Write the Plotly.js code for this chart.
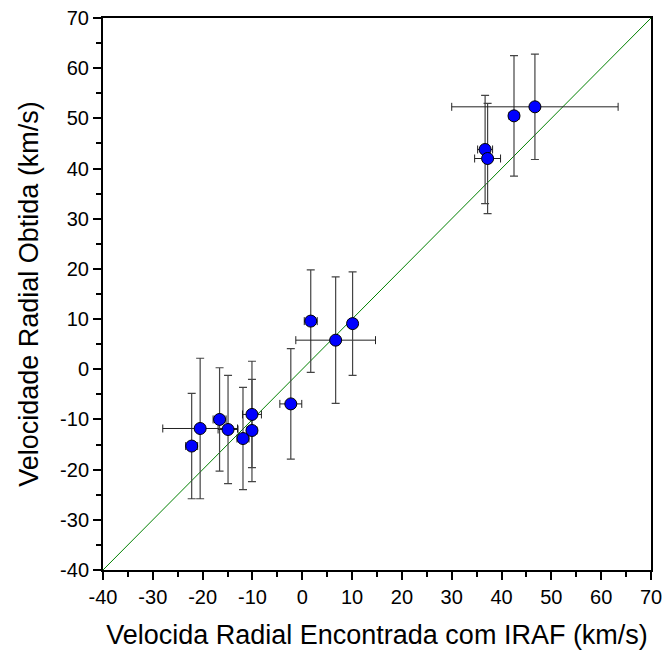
<!DOCTYPE html>
<html>
<head>
<meta charset="utf-8">
<script src="https://cdn.plot.ly/plotly-3.0.1.min.js"></script>
<style>html,body{margin:0;padding:0;background:#fff;}#chart{width:666px;height:658px;}</style>
</head>
<body>
<div id="chart"></div>
<script>
// IRAF radial velocity (x) vs obtained radial velocity (y), km/s
const xIraf   = [-22.2, -20.5, -16.6, -14.9, -11.9, -10.1, -10.1, -2.3, 1.7, 6.7, 10.1, 36.7, 37.2, 42.5, 46.7];
const yObtida = [-15.3, -11.8, -10.0, -12.0, -13.8, -9.0, -12.2, -6.9, 9.6, 5.8, 9.1, 43.8, 42.0, 50.5, 52.3];
const xErr    = [1.2, 7.5, 1.3, 2.0, 1.2, 1.9, 1.0, 2.2, 1.3, 8.0, 0.8, 1.5, 2.6, 1.0, 16.7];
const yErr    = [10.5, 14.0, 10.3, 10.8, 10.2, 10.6, 10.2, 11.0, 10.2, 12.6, 10.3, 10.8, 11.0, 12.0, 10.5];
const lineX   = [-40, 70];
const lineY   = [-40, 70];
const tickVals   = [-40, -30, -20, -10, 0, 10, 20, 30, 40, 50, 60, 70];
const tickLabels = ['-40', '-30', '-20', '-10', '0', '10', '20', '30', '40', '50', '60', '70'];

const tickFont = {family: 'Liberation Sans, Arial, sans-serif', size: 20, color: '#000'};
const titleFont = {family: 'Liberation Sans, Arial, sans-serif', size: 27, color: '#000'};

const traces = [
  {
    x: lineX, y: lineY, mode: 'lines', type: 'scatter',
    line: {color: '#008000', width: 1}, hoverinfo: 'skip', showlegend: false
  },
  {
    x: xIraf, y: yObtida, mode: 'markers', type: 'scatter', showlegend: false,
    marker: {color: '#0000ff', size: 12, line: {color: '#000', width: 1}},
    error_x: {type: 'data', array: xErr, visible: true, color: '#222', thickness: 1, width: 4},
    error_y: {type: 'data', array: yErr, visible: true, color: '#444', thickness: 1.2, width: 4}
  }
];

const axisCommon = {
  range: [-40, 70], tickmode: 'array', tickvals: tickVals, ticktext: tickLabels,
  showgrid: false, zeroline: false, automargin: false,
  showline: true, linecolor: '#000', linewidth: 2, mirror: true,
  ticks: 'outside', ticklen: 8, tickwidth: 2, tickcolor: '#000',
  minor: {dtick: 5, tick0: -40, ticks: 'outside', ticklen: 5, tickwidth: 2, tickcolor: '#000'},
  tickfont: tickFont
};

const layout = {
  width: 666, height: 658,
  margin: {l: 103, r: 15, t: 18, b: 88},
  paper_bgcolor: '#fff', plot_bgcolor: '#fff',
  xaxis: Object.assign({}, axisCommon, {
    title: {text: 'Velocida Radial Encontrada com IRAF (km/s)', font: titleFont, standoff: 18}
  }),
  yaxis: Object.assign({}, axisCommon, {
    title: {text: 'Velocidade Radial Obtida (km/s)', font: titleFont, standoff: 14}
  })
};

Plotly.newPlot('chart', traces, layout, {displayModeBar: false, staticPlot: true});
</script>
</body>
</html>
